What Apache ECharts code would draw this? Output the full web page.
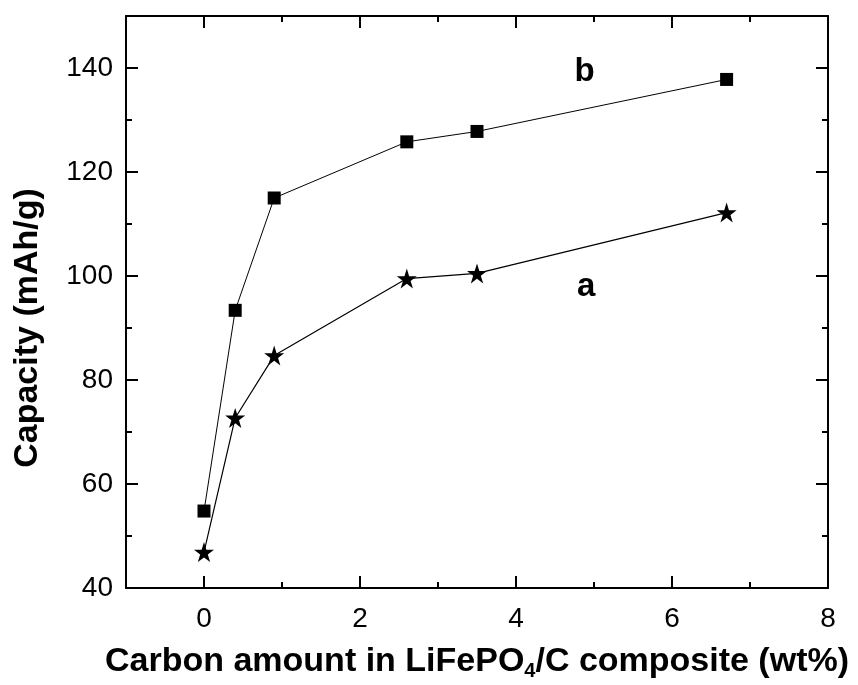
<!DOCTYPE html>
<html>
<head>
<meta charset="utf-8">
<script src="https://cdn.jsdelivr.net/npm/echarts@6/dist/echarts.min.js"></script>
<style>html,body{margin:0;padding:0;background:#fff;}#c{width:858px;height:685px;}</style>
</head>
<body>
<div id="c"></div>
<script>
const carbon = [0, 0.4, 0.9, 2.6, 3.5, 6.7];
const capacityB = [54.8, 93.4, 115, 125.8, 127.8, 137.8];
const capacityA = [46.9, 72.7, 84.7, 99.5, 100.5, 112.2];
const xMajorTicks = [0, 2, 4, 6, 8];
const xMinorTicks = [1, 3, 5, 7];
const yMajorTicks = [40, 60, 80, 100, 120, 140];
const yMinorTicks = [50, 70, 90, 110, 130];
const curveLabels = [{ name: 'b', x: 4.88, y: 139.3 }, { name: 'a', x: 4.9, y: 97.9 }];

const FONT = '"Liberation Sans", Arial, sans-serif';
const starPath = 'path://M50,0 L61.2,34.5 L97.6,34.5 L68.2,55.9 L79.4,90.5 L50,69.1 L20.6,90.5 L31.8,55.9 L2.4,34.5 L38.8,34.5 Z';

function xAxisDef(pos, ticks, len, labels, line) {
  return {
    type: 'value', min: -1, max: 8, position: pos,
    axisLine: { show: line, onZero: false, lineStyle: { color: '#000', width: 2 } },
    axisTick: { show: true, inside: true, length: len, customValues: ticks, lineStyle: { color: '#000', width: 2 } },
    axisLabel: labels ? { show: true, customValues: ticks, color: '#000', fontSize: 28, fontFamily: FONT, margin: 17 } : { show: false },
    splitLine: { show: false }
  };
}
function yAxisDef(pos, ticks, len, labels, line) {
  return {
    type: 'value', min: 40, max: 150, position: pos,
    axisLine: { show: line, onZero: false, lineStyle: { color: '#000', width: 2 } },
    axisTick: { show: true, inside: true, length: len, customValues: ticks, lineStyle: { color: '#000', width: 2 } },
    axisLabel: labels ? { show: true, customValues: ticks, color: '#000', fontSize: 28, fontFamily: FONT, margin: 13 } : { show: false },
    splitLine: { show: false }
  };
}

const xAxes = [
  Object.assign(xAxisDef('bottom', xMajorTicks, 12, true, true), {
    name: 'Carbon amount in LiFePO{sub|4}/C composite (wt%)',
    nameLocation: 'middle', nameGap: 55,
    nameTextStyle: { color: '#000', fontSize: 34, fontWeight: 'bold', fontFamily: FONT,
      rich: { sub: { fontSize: 20, fontWeight: 'bold', fontFamily: FONT, color: '#000', verticalAlign: 'bottom', padding: [18, 0, 0, 0] } } }
  }),
  xAxisDef('bottom', xMinorTicks, 6, false, false),
  xAxisDef('top', xMajorTicks, 12, false, true),
  xAxisDef('top', xMinorTicks, 6, false, false)
];
const yAxes = [
  Object.assign(yAxisDef('left', yMajorTicks, 12, true, true), {
    name: 'Capacity (mAh/g)', nameLocation: 'middle', nameGap: 81,
    nameTextStyle: { color: '#000', fontSize: 34, fontWeight: 'bold', fontFamily: FONT, padding: [0, 52, 0, 0] }
  }),
  yAxisDef('left', yMinorTicks, 6, false, false),
  yAxisDef('right', yMajorTicks, 12, false, true),
  yAxisDef('right', yMinorTicks, 6, false, false)
];

const chart = echarts.init(document.getElementById('c'), null, { renderer: 'canvas' });
chart.setOption({
  animation: false,
  backgroundColor: '#fff',
  grid: { left: 126, right: 30, top: 16, bottom: 97, containLabel: false, outerBoundsMode: 'none' },
  xAxis: xAxes,
  yAxis: yAxes,
  series: [
    {
      type: 'line', xAxisIndex: 0, yAxisIndex: 0,
      data: carbon.map((x, i) => [x, capacityB[i]]),
      symbol: 'rect', symbolSize: 13,
      lineStyle: { color: '#000', width: 1 },
      itemStyle: { color: '#000' }
    },
    {
      type: 'line', xAxisIndex: 0, yAxisIndex: 0,
      data: carbon.map((x, i) => [x, capacityA[i]]),
      symbol: starPath, symbolSize: 20,
      lineStyle: { color: '#000', width: 1.2 },
      itemStyle: { color: '#000' }
    },
    {
      type: 'scatter', xAxisIndex: 0, yAxisIndex: 0,
      data: curveLabels.map(d => ({ value: [d.x, d.y], name: d.name })),
      symbolSize: 1,
      itemStyle: { color: 'rgba(0,0,0,0)' },
      label: { show: true, position: 'inside', formatter: p => p.name, color: '#000', opacity: 1, textBorderWidth: 0, fontSize: 33, fontWeight: 'bold', fontFamily: FONT }
    }
  ]
});
</script>
</body>
</html>
